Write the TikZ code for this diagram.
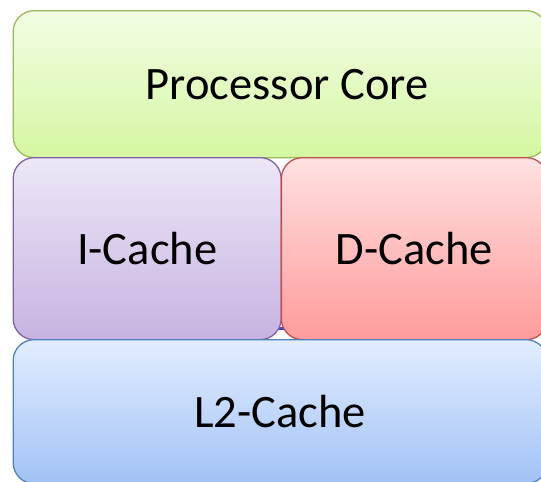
\documentclass[tikz,border=0pt]{standalone}
\usepackage{fontspec}
\setmainfont{Carlito}
\definecolor{pcTop}{HTML}{F3FDE3}
\definecolor{pcBot}{HTML}{D5F7A2}
\definecolor{pcLine}{HTML}{9BBB59}
\definecolor{icTop}{HTML}{EDE7F7}
\definecolor{icBot}{HTML}{C7B3E1}
\definecolor{icLine}{HTML}{8064A2}
\definecolor{dcTop}{HTML}{FFE1E1}
\definecolor{dcBot}{HTML}{FF9B9B}
\definecolor{dcLine}{HTML}{C0504D}
\definecolor{l2Top}{HTML}{E2EDFE}
\definecolor{l2Bot}{HTML}{A2C2F6}
\definecolor{l2Line}{HTML}{4F81BD}
\definecolor{stray}{HTML}{3A4CC4}
\tikzset{
  blockbox/.style={draw, line width=1.3pt, rounded corners=21pt, anchor=north west,
    inner sep=0pt, font=\fontsize{46.5}{50}\selectfont, text=black},
}
\begin{document}
\begin{tikzpicture}[x=1pt,y=-1pt]
\useasboundingbox (0,0) rectangle (541,482);
\clip (0,0) rectangle (541,482);
\node[blockbox, draw=pcLine, top color=pcTop, bottom color=pcBot,
  minimum width=534pt, minimum height=147pt] (core) at (12.5,10) {\hspace*{14pt}Processor Core};
\coordinate (sa) at (262,328);
\coordinate (sb) at (300,328);
\draw[stray, line width=3pt] (sa) -- (sb);
\node[blockbox, draw=icLine, top color=icTop, bottom color=icBot,
  minimum width=268pt, minimum height=182pt] (icache) at (12.5,157) {I-Cache};
\node[blockbox, draw=dcLine, top color=dcTop, bottom color=dcBot,
  minimum width=266pt, minimum height=182pt] (dcache) at (280.7,157) {D-Cache};
\node[blockbox, draw=l2Line, top color=l2Top, bottom color=l2Bot,
  minimum width=534pt, minimum height=144pt] (l2) at (12.5,339) {L2-Cache};
\end{tikzpicture}
\end{document}
